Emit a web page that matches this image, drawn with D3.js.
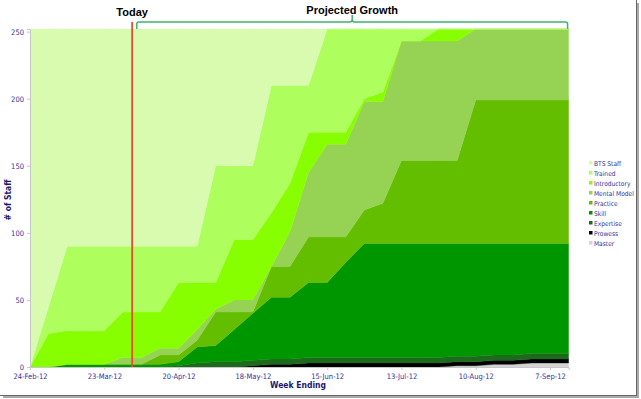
<!DOCTYPE html>
<html>
<head>
<meta charset="utf-8">
<script src="https://cdn.jsdelivr.net/npm/d3@7/dist/d3.min.js"></script>
<style>
  body { margin: 0; background: #fff; }
  svg { display: block; }
  .axis path, .axis line { stroke: #c8c8c8; }
  .axis text { font-family: 'DejaVu Sans Condensed', 'DejaVu Sans', sans-serif; font-size: 7.5px; fill: #333399; }
</style>
</head>
<body>
<svg></svg>
<script>
// week ending dates, one per category
var weeks = ['24-Feb-12', '2-Mar-12', '9-Mar-12', '16-Mar-12', '23-Mar-12', '30-Mar-12',
  '6-Apr-12', '13-Apr-12', '20-Apr-12', '27-Apr-12', '4-May-12', '11-May-12', '18-May-12',
  '25-May-12', '1-Jun-12', '8-Jun-12', '15-Jun-12', '22-Jun-12', '29-Jun-12', '6-Jul-12',
  '13-Jul-12', '20-Jul-12', '27-Jul-12', '3-Aug-12', '10-Aug-12', '17-Aug-12', '24-Aug-12',
  '31-Aug-12', '7-Sep-12', '14-Sep-12'];
var tickIndex = [0, 4, 8, 12, 16, 20, 24, 28];
var yTicks = [0, 50, 100, 150, 200, 250];

// staff per level (stacked bottom to top)
var master =       [0,0,0,0,0,0,0,0,0,0, 0,0,0,0,0,0,0,0,0,0, 0,0,0,1,1,2,2,3,3,3];
var prowess =      [0,0,0,0,0,0,0,0,0,0, 0,0,1,2,2,3,3,3,3,3, 3,3,3,3,3,3,3,3,3,3];
var expertise =    [0,0,0,0,0,0,0,0,1,3, 4,4,4,4,4,4,4,4,4,4, 4,4,4,4,4,4,4,4,4,4];
var skill =        [0,0,2,2,2,2,2,2,3,12, 12,24,35,46,46,56,56,71,85,85, 85,85,85,84,84,83,83,82,82,82];
var practice =     [0,0,0,0,0,0,0,7,5,5, 25,13,1,23,23,34,34,19,25,30, 62,62,62,62,107,107,107,107,107,107];
var mentalModel =  [0,0,0,0,0,5,5,5,5,8, 2,9,9,0,26,48,69,69,81,76, 89,89,89,89,53,53,53,53,53,53];
var introductory = [0,25,25,25,25,34,34,27,49,35, 20,45,45,40,36,30,9,9,2,7, 0,0,9,9,0,0,0,0,0,0];
var trained =      [0,20,63,63,63,49,49,49,27,27, 87,55,55,95,73,35,77,77,52,47, 9,9,0,0,0,0,0,0,0,0];
var btsStaff =     [252,207,162,162,162,162,162,162,162,162, 102,102,102,42,42,42,0,0,0,0, 0,0,0,0,0,0,0,0,0,0];

var seriesNames = ['Master', 'Prowess', 'Expertise', 'Skill', 'Practice', 'Mental Model',
  'Introductory', 'Trained', 'BTS Staff'];
var seriesValues = [master, prowess, expertise, skill, practice, mentalModel,
  introductory, trained, btsStaff];
var seriesColors = ['#d4d4d4', '#000000', '#1d6a1d', '#009600', '#64be00', '#96d254',
  '#88ff00', '#aeff5e', '#d8fbb0'];

var todayIndex = 5.5;
var projectedStart = 5.75;

var margin = { top: 29, left: 30 };
var plotW = 538.6;
var plotH = 338;
var smallFont = "'DejaVu Sans Condensed', 'DejaVu Sans', sans-serif";
var titleFont = "'Liberation Sans', Arial, sans-serif";

var svg = d3.select('svg')
  .attr('width', 641)
  .attr('height', 399);

// picture frame with shadow
svg.append('line').attr('x1', 636.5).attr('x2', 636.5).attr('y1', 0).attr('y2', 395)
  .attr('stroke', '#666').attr('stroke-width', 1);
svg.append('line').attr('x1', 638).attr('x2', 638).attr('y1', 3).attr('y2', 397)
  .attr('stroke', '#aaa').attr('stroke-width', 2);
svg.append('line').attr('x1', 0).attr('x2', 637).attr('y1', 395.5).attr('y2', 395.5)
  .attr('stroke', '#666').attr('stroke-width', 1);
svg.append('line').attr('x1', 3).attr('x2', 639).attr('y1', 397).attr('y2', 397)
  .attr('stroke', '#aaa').attr('stroke-width', 2);

var g = svg.append('g')
  .attr('transform', 'translate(' + margin.left + ',' + margin.top + ')');

var x = d3.scaleLinear().domain([0, weeks.length - 1]).range([0, plotW]);
var y = d3.scaleLinear().domain([0, 252]).range([plotH, 0]);

var rows = weeks.map(function(w, i) {
  var row = { i: i, week: w };
  seriesNames.forEach(function(name, k) { row[name] = seriesValues[k][i]; });
  return row;
});

var stack = d3.stack().keys(seriesNames);
var layers = stack(rows);

var area = d3.area()
  .x(function(d) { return x(d.data.i); })
  .y0(function(d) { return y(d[0]); })
  .y1(function(d) { return y(d[1]); });

g.selectAll('.layer')
  .data(layers)
  .enter().append('path')
  .attr('class', 'layer')
  .attr('fill', function(d, k) { return seriesColors[k]; })
  .attr('stroke', function(d, k) { return seriesColors[k]; })
  .attr('stroke-width', 0.4)
  .attr('d', area);

var yAxis = d3.axisLeft(y).tickValues(yTicks).tickSize(3).tickPadding(3);
g.append('g').attr('class', 'axis').call(yAxis);

var xAxis = d3.axisBottom(x)
  .tickValues(tickIndex)
  .tickFormat(function(i) { return weeks[i]; })
  .tickSize(3).tickPadding(4);
g.append('g').attr('class', 'axis')
  .attr('transform', 'translate(0,' + plotH + ')')
  .call(xAxis);

// axis titles
svg.append('text')
  .attr('x', 298).attr('y', 388)
  .attr('text-anchor', 'middle')
  .style('font-family', smallFont)
  .style('font-size', '8.5px').style('font-weight', 'bold')
  .attr('fill', '#1a1a6e')
  .text('Week Ending');

svg.append('text')
  .attr('transform', 'translate(11,200) rotate(-90)')
  .attr('text-anchor', 'middle')
  .style('font-family', smallFont)
  .style('font-size', '8.5px').style('font-weight', 'bold')
  .attr('fill', '#1a1a6e')
  .text('# of Staff');

// today marker
var todayX = margin.left + x(todayIndex);
svg.append('line')
  .attr('x1', todayX).attr('x2', todayX)
  .attr('y1', 22).attr('y2', margin.top + plotH)
  .attr('stroke', '#f04a2a').attr('stroke-width', 1.8);
svg.append('text')
  .attr('x', todayX).attr('y', 16)
  .attr('text-anchor', 'middle')
  .style('font-family', titleFont)
  .style('font-size', '11px').style('font-weight', 'bold')
  .text('Today');

// projected growth bracket
var bx0 = margin.left + x(projectedStart);
var bx1 = margin.left + x(weeks.length - 1) - 1;
var bmid = (bx0 + bx1) / 2;
var bracket = d3.path();
bracket.moveTo(bx0, 29);
bracket.lineTo(bx0, 24);
bracket.quadraticCurveTo(bx0, 22, bx0 + 2, 22);
bracket.lineTo(bmid - 2, 22);
bracket.quadraticCurveTo(bmid, 22, bmid, 19);
bracket.lineTo(bmid, 15);
bracket.moveTo(bmid, 19);
bracket.quadraticCurveTo(bmid, 22, bmid + 2, 22);
bracket.lineTo(bx1 - 2, 22);
bracket.quadraticCurveTo(bx1, 22, bx1, 24);
bracket.lineTo(bx1, 29);
svg.append('path')
  .attr('d', bracket.toString())
  .attr('fill', 'none')
  .attr('stroke', '#3cb46e')
  .attr('stroke-width', 1.5);
svg.append('text')
  .attr('x', bmid).attr('y', 14)
  .attr('text-anchor', 'middle')
  .style('font-family', titleFont)
  .style('font-size', '11px').style('font-weight', 'bold')
  .text('Projected Growth');

// legend, top entry is the top layer
var legend = svg.append('g').attr('transform', 'translate(589,163)');
var legendItems = seriesNames.slice().reverse();
var legendRow = legend.selectAll('g')
  .data(legendItems)
  .enter().append('g')
  .attr('transform', function(d, i) { return 'translate(0,' + (i * 10) + ')'; });
legendRow.append('rect')
  .attr('x', 0).attr('y', -2)
  .attr('width', 3.5).attr('height', 3.5)
  .attr('fill', function(d) { return seriesColors[seriesNames.indexOf(d)]; });
legendRow.append('text')
  .attr('x', 5).attr('y', 2.5)
  .style('font-family', smallFont)
  .style('font-size', '6.6px')
  .attr('fill', '#333399')
  .text(function(d) { return d; });
</script>
</body>
</html>
